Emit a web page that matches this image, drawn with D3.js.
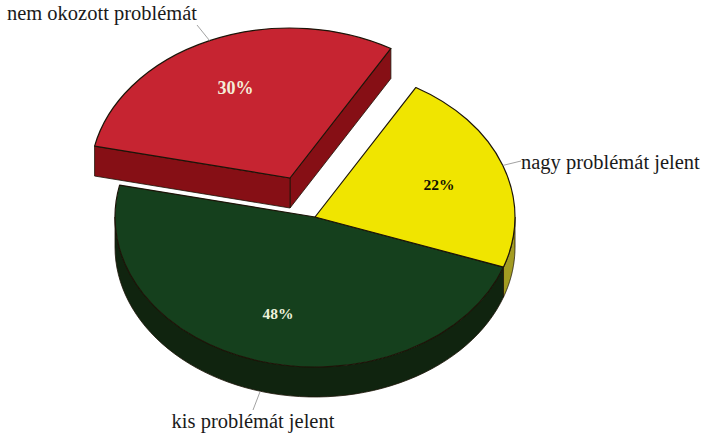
<!DOCTYPE html>
<html><head><meta charset="utf-8">
<script src="https://cdn.jsdelivr.net/npm/d3@7"></script>
<style>html,body{margin:0;background:#fff}svg{display:block}text{font-family:"Liberation Serif",serif}</style>
</head><body><svg width="703" height="435"></svg>
<script>
const categories = ["nem okozott problémát", "nagy problémát jelent", "kis problémát jelent"];
const values = [30, 22, 48];
const percentLabels = ["30%", "22%", "48%"];
const topColors = ["#c62431", "#f0e500", "#15401d"];
const sideColors = ["#7e0f16", "#a39c22", "#10240f"];
const cutColors = ["#860f15", "#a39c22", "#10240f"];
const percentColors = ["#f4ecd8", "#111100", "#eef2dc"];

const W = 703, H = 435, cx = 315, cy = 217, R = 200, tilt = 0.75, depth = 30;
const TAU = Math.PI * 2;
const startDeg = 282.3;

const pie = d3.pie().sort(null).startAngle(startDeg / 360 * TAU).endAngle((startDeg + 360) / 360 * TAU);
const arcs = pie(values);
const offsets = [[-25, -39], [0, 0], [0, 0]];
const pt = (a, r = R) => [r * Math.sin(a), -r * Math.cos(a) * tilt];
const arcGen = d3.arc().innerRadius(0).outerRadius(R);
const svg = d3.select("svg");

function wall(a0, a1, d) {
  const n = 60, top = d3.range(n + 1).map(i => pt(a0 + (a1 - a0) * i / n));
  const bot = top.map(p => [p[0], p[1] + d]).reverse();
  return d3.line()(top.concat(bot)) + "Z";
}
function face(p, d) {
  return d3.line()([[0, 0], p, [p[0], p[1] + d], [0, d]]) + "Z";
}
const stroke = "#1c1408";
const order = [2, 1, 0];
order.forEach(i => {
  const a = arcs[i], g = svg.append("g").attr("transform", `translate(${cx + offsets[i][0]},${cy + offsets[i][1]})`);
  const ranges = [[TAU / 4, TAU * 3 / 4], [TAU * 5 / 4, TAU * 7 / 4]];
  ranges.forEach(([lo, hi]) => {
    const a0 = Math.max(a.startAngle, lo), a1 = Math.min(a.endAngle, hi);
    if (a1 > a0) g.append("path").attr("d", wall(a0, a1, depth)).attr("fill", sideColors[i]).attr("stroke", stroke).attr("stroke-width", 0.8);
  });
  if (i === 0) {
    g.append("path").attr("d", face(pt(a.endAngle), depth)).attr("fill", cutColors[i]).attr("stroke", stroke).attr("stroke-width", 0.8);
    g.append("path").attr("d", face(pt(a.startAngle), depth)).attr("fill", cutColors[i]).attr("stroke", stroke).attr("stroke-width", 0.8);
  }
  g.append("path").attr("d", arcGen({startAngle: a.startAngle, endAngle: a.endAngle}))
    .attr("transform", `scale(1,${tilt})`).attr("fill", topColors[i])
    .attr("stroke", stroke).attr("stroke-width", 1.2).attr("vector-effect", "non-scaling-stroke")
    .attr("stroke-linejoin", "round");
});

const pctPos = [[235.5, 94, 18], [439, 190, 15.5], [278, 319, 15.5]];
percentLabels.forEach((t, i) => {
  svg.append("text").attr("x", pctPos[i][0]).attr("y", pctPos[i][1]).attr("text-anchor", "middle")
    .attr("font-size", pctPos[i][2]).attr("font-weight", "bold").attr("fill", percentColors[i]).text(t);
});

const labelPos = [[102, 20, "middle", [197, 25]], [521, 169, "start", [521, 161]], [253, 428, "middle", [253, 410]]];
categories.forEach((t, i) => {
  const mid = (arcs[i].startAngle + arcs[i].endAngle) / 2, p = pt(mid);
  const x = cx + offsets[i][0] + p[0], y = cy + offsets[i][1] + p[1] + (i === 2 ? depth : 0);
  svg.append("line").attr("x1", x).attr("y1", y).attr("x2", labelPos[i][3][0]).attr("y2", labelPos[i][3][1])
    .attr("stroke", "#8a8a8a").attr("stroke-width", 0.8);
  svg.append("text").attr("x", labelPos[i][0]).attr("y", labelPos[i][1]).attr("text-anchor", labelPos[i][2])
    .attr("font-size", 20.5).attr("fill", "#1a1a1a").text(t);
});
</script></body></html>
